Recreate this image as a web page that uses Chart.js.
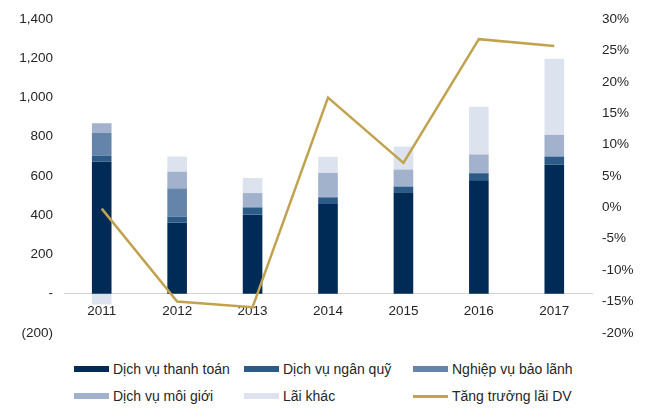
<!DOCTYPE html>
<html>
<head>
<meta charset="utf-8">
<script src="https://cdn.jsdelivr.net/npm/chart.js@4/dist/chart.umd.min.js"></script>
<style>
  body { margin: 0; background: #fff; font-family: "Liberation Sans", Arial, sans-serif; }
  #wrap { position: relative; width: 649px; height: 408px; }
  #chartBox { position: absolute; left: 0; top: 0; width: 649px; height: 352px; }
  .lg { position: absolute; font-size: 14px; color: #262626; white-space: nowrap; line-height: 16px; }
  .sw { position: absolute; width: 35px; height: 6px; }
  .sw.line { height: 3px; }
</style>
</head>
<body>
<div id="wrap">
  <div id="chartBox"><canvas id="feeChart"></canvas></div>
  <div id="legend"></div>
</div>
<script>
const years = ['2011', '2012', '2013', '2014', '2015', '2016', '2017']
const thanhToan = [673, 362, 403, 457, 514, 578, 659]
const nganQuy = [30, 31, 36, 34, 31, 36, 39]
const baoLanh = [117, 144, 3, 3, 3, 3, 3]
const moiGioi = [49, 85, 71, 122, 85, 93, 109]
const laiKhac = [-55, 77, 77, 82, 117, 243, 388]
const tangTruong = [-0.2, -15.0, -15.9, 17.5, 7.1, 26.8, 25.7]

const labels = ['Dịch vụ thanh toán', 'Dịch vụ ngân quỹ', 'Nghiệp vụ bảo lãnh', 'Dịch vụ môi giới', 'Lãi khác', 'Tăng trưởng lãi DV']
const colors = ['#002b56', '#2b5b86', '#6584aa', '#a2b2cc', '#dce3ee', '#c1a24f']

const tickFont = { family: '"Liberation Sans", Arial, sans-serif', size: 13.5 }

function bar(i, data) {
    return {
        type: 'bar',
        label: labels[i],
        data: data,
        backgroundColor: colors[i],
        borderWidth: 0,
        yAxisID: 'y',
        stack: 'dv',
        order: 1,
        categoryPercentage: 1,
        barPercentage: 0.26
    }
}

const ctx = document.getElementById('feeChart').getContext('2d')
const feeChart = new Chart(ctx, {
    data: {
        labels: years,
        datasets: [
            {
                type: 'line',
                label: labels[5],
                data: tangTruong,
                borderColor: colors[5],
                borderWidth: 2.5,
                pointRadius: 0,
                tension: 0,
                yAxisID: 'y1',
                order: 0
            },
            bar(0, thanhToan),
            bar(1, nganQuy),
            bar(2, baoLanh),
            bar(3, moiGioi),
            bar(4, laiKhac)
        ]
    },
    options: {
        responsive: true,
        maintainAspectRatio: false,
        animation: false,
        layout: { padding: { top: 17, bottom: 11, left: 0, right: 0 } },
        plugins: { legend: { display: false }, tooltip: { enabled: false } },
        scales: {
            x: {
                stacked: true,
                position: { y: 0 },
                grid: { display: false, drawTicks: false },
                border: { display: true, color: '#d4d4d4', width: 1, dash: [2, 1] },
                ticks: { font: tickFont, color: '#262626', padding: 10, maxRotation: 0 },
                afterFit: scale => { scale.height = 0 }
            },
            y: {
                stacked: true,
                position: 'left',
                min: -200,
                max: 1400,
                grid: { display: false, drawTicks: false },
                border: { display: false },
                ticks: {
                    stepSize: 200,
                    font: tickFont,
                    color: '#262626',
                    padding: 11,
                    callback: v => v == 0 ? '-' : v < 0 ? '(' + Math.abs(v) + ')' : v.toLocaleString('en-US')
                },
                afterFit: scale => { scale.width = 64 }
            },
            y1: {
                position: 'right',
                min: -20,
                max: 30,
                grid: { display: false, drawTicks: false },
                border: { display: false },
                ticks: {
                    stepSize: 5,
                    font: tickFont,
                    color: '#262626',
                    padding: 10,
                    callback: v => Math.round(v) + '%'
                },
                afterFit: scale => { scale.width = 57 }
            }
        }
    }
})

// legend, 3 columns x 2 rows like the original
const legendBox = document.getElementById('legend')
const colX = [74, 244, 413]
const rowY = [369, 396]
labels.forEach((name, i) => {
    const col = i % 3
    const row = Math.floor(i / 3)
    const sw = document.createElement('div')
    sw.className = i == 5 ? 'sw line' : 'sw'
    sw.style.left = colX[col] + 'px'
    sw.style.top = (rowY[row] - (i == 5 ? 1.5 : 3)) + 'px'
    sw.style.background = colors[i]
    legendBox.appendChild(sw)
    const txt = document.createElement('div')
    txt.className = 'lg'
    txt.style.left = (colX[col] + 39) + 'px'
    txt.style.top = (rowY[row] - 8) + 'px'
    txt.textContent = name
    legendBox.appendChild(txt)
})
</script>
</body>
</html>
